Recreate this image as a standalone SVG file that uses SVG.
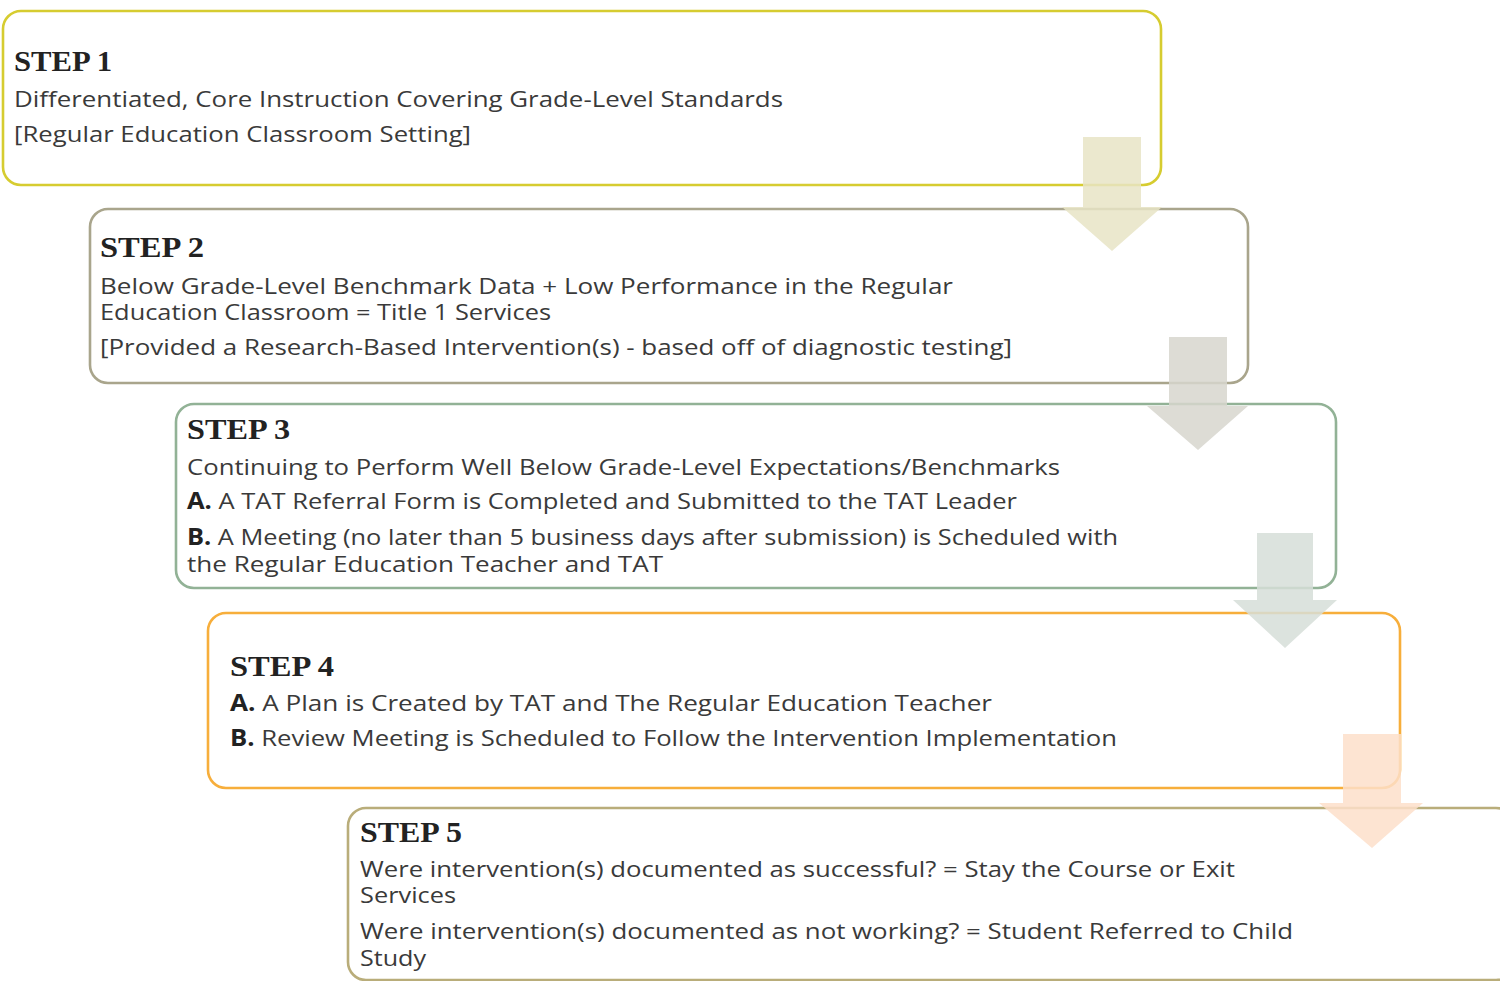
<svg xmlns="http://www.w3.org/2000/svg" width="1500" height="981" viewBox="0 0 1500 981">
<style>
.box{fill:#ffffff;stroke-width:2.6}
.title{font-family:"Liberation Serif","Times New Roman",serif;font-weight:bold;font-size:29px;fill:#222222}
.body{font-family:"Open Sans","Liberation Sans",sans-serif;font-size:22.5px;fill:#3a3a3a}
.b{font-weight:bold;fill:#222222}
.arr{opacity:0.85}
</style>
<rect width="1500" height="981" fill="#ffffff"/>
<g id="step1">
<rect class="box" x="3" y="11" width="1158" height="174" rx="18" stroke="#d6cc30"/>
<text class="title" x="14" y="71" textLength="98" lengthAdjust="spacingAndGlyphs">STEP 1</text>
<text class="body" x="14" y="107" textLength="769" lengthAdjust="spacingAndGlyphs">Differentiated, Core Instruction Covering Grade-Level Standards</text>
<text class="body" x="14" y="142" textLength="457" lengthAdjust="spacingAndGlyphs">[Regular Education Classroom Setting]</text>
</g>
<g id="step2">
<rect class="box" x="90" y="209" width="1158" height="174" rx="18" stroke="#a9a58c"/>
<text class="title" x="100" y="257" textLength="104" lengthAdjust="spacingAndGlyphs">STEP 2</text>
<text class="body" x="100" y="294" textLength="853" lengthAdjust="spacingAndGlyphs">Below Grade-Level Benchmark Data + Low Performance in the Regular</text>
<text class="body" x="100" y="320" textLength="451" lengthAdjust="spacingAndGlyphs">Education Classroom = Title 1 Services</text>
<text class="body" x="100" y="355" textLength="912" lengthAdjust="spacingAndGlyphs">[Provided a Research-Based Intervention(s) - based off of diagnostic testing]</text>
</g>
<g id="step3">
<rect class="box" x="176" y="404" width="1160" height="184" rx="18" stroke="#92b296"/>
<text class="title" x="187" y="439" textLength="103" lengthAdjust="spacingAndGlyphs">STEP 3</text>
<text class="body" x="187" y="475" textLength="873" lengthAdjust="spacingAndGlyphs">Continuing to Perform Well Below Grade-Level Expectations/Benchmarks</text>
<text class="body" x="187" y="509" textLength="830" lengthAdjust="spacingAndGlyphs"><tspan class="b">A.</tspan> A TAT Referral Form is Completed and Submitted to the TAT Leader</text>
<text class="body" x="187" y="545" textLength="931" lengthAdjust="spacingAndGlyphs"><tspan class="b">B.</tspan> A Meeting (no later than 5 business days after submission) is Scheduled with</text>
<text class="body" x="187" y="572" textLength="476" lengthAdjust="spacingAndGlyphs">the Regular Education Teacher and TAT</text>
</g>
<g id="step4">
<rect class="box" x="208" y="613" width="1192" height="175" rx="18" stroke="#f7ae3b"/>
<text class="title" x="230" y="676" textLength="104" lengthAdjust="spacingAndGlyphs">STEP 4</text>
<text class="body" x="230" y="711" textLength="762" lengthAdjust="spacingAndGlyphs"><tspan class="b">A.</tspan> A Plan is Created by TAT and The Regular Education Teacher</text>
<text class="body" x="230" y="746" textLength="887" lengthAdjust="spacingAndGlyphs"><tspan class="b">B.</tspan> Review Meeting is Scheduled to Follow the Intervention Implementation</text>
</g>
<g id="step5">
<rect class="box" x="348" y="808" width="1166" height="172" rx="18" stroke="#b9ad7a"/>
<text class="title" x="360" y="842" textLength="102" lengthAdjust="spacingAndGlyphs">STEP 5</text>
<text class="body" x="360" y="877" textLength="875" lengthAdjust="spacingAndGlyphs">Were intervention(s) documented as successful? = Stay the Course or Exit</text>
<text class="body" x="360" y="903" textLength="96" lengthAdjust="spacingAndGlyphs">Services</text>
<text class="body" x="360" y="939" textLength="933" lengthAdjust="spacingAndGlyphs">Were intervention(s) documented as not working? = Student Referred to Child</text>
<text class="body" x="360" y="966" textLength="66" lengthAdjust="spacingAndGlyphs">Study</text>
</g>
<g id="connectors">
<polygon class="arr" fill="#e7e4c6" points="1083,137 1141,137 1141,207 1162,207 1112,251 1062,207 1083,207"/>
<polygon class="arr" fill="#d7d6ce" points="1169,337 1227,337 1227,406 1248,406 1198,450 1147,406 1169,406"/>
<polygon class="arr" fill="#d6ded8" points="1257,533 1313,533 1313,600 1337,600 1285,648 1233,600 1257,600"/>
<polygon class="arr" fill="#fddfca" points="1343,734 1401,734 1401,803 1423,803 1372,848 1319,803 1343,803"/>
</g>
</svg>
